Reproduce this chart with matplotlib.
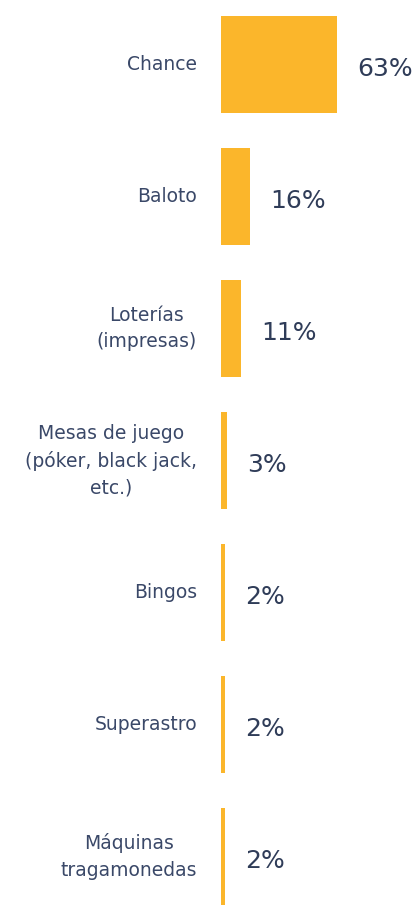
import matplotlib.pyplot as plt
from matplotlib import font_manager

# datos
categorias = ["Chance", "Baloto", "Loterías\n(impresas)",
              "Mesas de juego\n(póker, black jack,\netc.)",
              "Bingos", "Superastro", "Máquinas\ntragamonedas"]
valores = [63, 16, 11, 3, 2, 2, 2]
etiquetas = ["63%", "16%", "11%", "3%", "2%", "2%", "2%"]

color_barra = "#FBB62B"
color_texto = "#3A4868"
color_valor = "#2F3C58"

plt.rcParams['font.family'] = ['DejaVu Sans']

# fuente estrecha para los porcentajes si existe
nombres = {f.name for f in font_manager.fontManager.ttflist}
if "Liberation Sans Narrow" in nombres:
    fuente_valor, tam_valor = ["Liberation Sans Narrow", "DejaVu Sans"], 23
else:
    fuente_valor, tam_valor = ["DejaVu Sans"], 18

fig = plt.figure(figsize=(4.14, 9.10), dpi=100)
ax = fig.add_axes([221 / 414, 0, 193 / 414, 1])

pos = list(range(len(categorias)))
ax.barh(pos, valores, height=0.74, color=color_barra, edgecolor="none")

ax.set_xlim(0, 105)
ax.set_ylim(6.405, -0.489)

for i, (v, t) in enumerate(zip(valores, etiquetas)):
    ax.text(v + 11, i + 0.03, t, ha="left", va="center", family=fuente_valor,
            fontsize=tam_valor, color=color_valor)

for i, c in enumerate(categorias):
    ax.text(-13, i, c, ha="right", va="center", fontsize=13.5,
            color=color_texto, linespacing=1.5, multialignment="center",
            clip_on=False)

ax.axis("off")

plt.savefig("out.png", dpi=100)
